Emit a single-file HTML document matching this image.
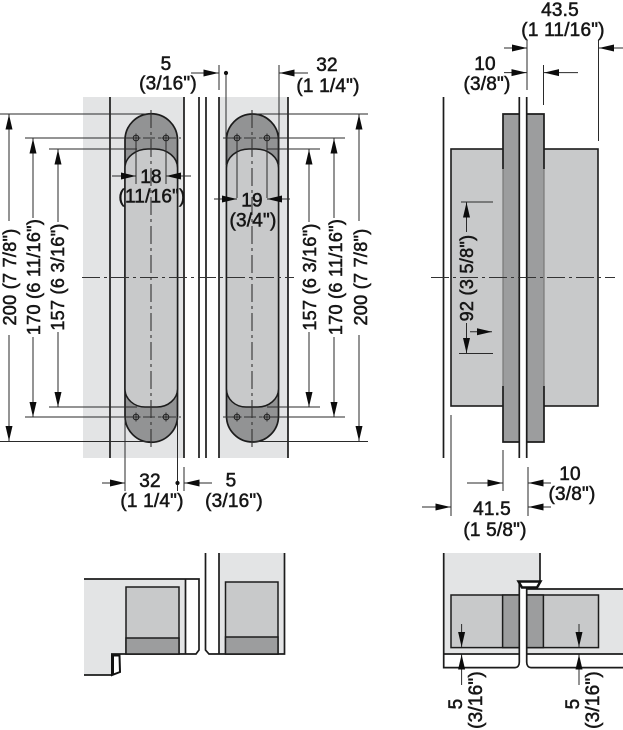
<!DOCTYPE html>
<html><head><meta charset="utf-8"><style>
html,body{margin:0;padding:0;background:#fff}
svg{display:block}
text{font-family:"Liberation Sans",sans-serif;font-size:19px;fill:#161616;stroke:#161616;stroke-width:.55;text-anchor:middle;letter-spacing:.2px}
text.r{font-size:18px;letter-spacing:.3px}
.k{stroke:#1c1c1c;stroke-width:1.7;fill:none}
.t{stroke:#2a2a2a;stroke-width:1;fill:none}
.c{stroke:#333;stroke-width:1.1;fill:none;stroke-dasharray:18 4 3 4}
</style></head><body>
<svg width="623" height="730" viewBox="0 0 623 730" xmlns="http://www.w3.org/2000/svg">
<defs>
<marker id="a" markerUnits="userSpaceOnUse" markerWidth="16" markerHeight="8" refX="15" refY="4" orient="auto"><path d="M0 .5L15 4L0 7.5Z" fill="#0c0c0c"/></marker>
<g id="hole"><circle r="2.8" fill="none" stroke="#222" stroke-width="1"/><path d="M-4.5 0H4.5M0 -4.5V4.5" stroke="#222" stroke-width=".9"/></g>
</defs>

<!-- left view panels -->
<rect x="83" y="97" width="101" height="361" fill="#e3e4e5"/>
<rect x="219" y="97" width="69" height="361" fill="#e3e4e5"/>

<!-- hinges -->
<path d="M125 140A26.2 26.2 0 0 1 177.5 140V416A26.2 26.2 0 0 1 125 416Z" class="k" style="fill:#929394"/>
<path d="M125 168C125 157 136 149 148 149H155C167 149 177.5 157 177.5 168V389C177.5 399 168 407 157 407H145C134 407 125 399 125 389Z" fill="#c8c9ca" stroke="#1c1c1c" stroke-width="1.5"/>
<path d="M226.5 140A26 26 0 0 1 278.5 140V416A26 26 0 0 1 226.5 416Z" style="fill:#929394" class="k"/>
<path d="M226.5 168C226.5 157 237 149 249 149H256C268 149 278.5 157 278.5 168V389C278.5 399 269 407 258 407H246C235 407 226.5 399 226.5 389Z" fill="#c8c9ca" stroke="#1c1c1c" stroke-width="1.5"/>

<!-- vertical structure lines -->
<path class="k" d="M110 97V458M184 97V458M199 97V458M206 97V458M219 97V458M288 97V458"/>

<!-- centre lines -->
<path class="c" d="M82 277.5H294M151 110V448M252 110V448M431 277.5H615"/>
<path class="c" style="stroke-dasharray:12 3 3 3" d="M122 138H181M122 417H181M223 138H282M223 417H282"/>

<use href="#hole" x="136" y="138"/><use href="#hole" x="166" y="138"/>
<use href="#hole" x="237" y="138"/><use href="#hole" x="267" y="138"/>
<use href="#hole" x="136" y="417"/><use href="#hole" x="166" y="417"/>
<use href="#hole" x="237" y="417"/><use href="#hole" x="267" y="417"/>

<!-- extension lines left -->
<path class="t" d="M0 114H150M25 138H136M49 149H137M49 407H137M25 417H136M0 441.5H150"/>
<!-- extension lines right -->
<path class="t" d="M252 114H368M267 138H345M267 149H320M267 407H320M267 417H345M252 441.5H368"/>

<!-- vertical dims left -->
<path class="t" marker-end="url(#a)" d="M9 221V114.5"/><path class="t" marker-end="url(#a)" d="M9 335V441"/>
<path class="t" marker-end="url(#a)" d="M33 218V138.5"/><path class="t" marker-end="url(#a)" d="M33 337V417"/>
<path class="t" marker-end="url(#a)" d="M58 222V149.5"/><path class="t" marker-end="url(#a)" d="M58 332V407"/>
<!-- vertical dims right -->
<path class="t" marker-end="url(#a)" d="M309 222V149.5"/><path class="t" marker-end="url(#a)" d="M309 332V407"/>
<path class="t" marker-end="url(#a)" d="M334 218V138.5"/><path class="t" marker-end="url(#a)" d="M334 337V417"/>
<path class="t" marker-end="url(#a)" d="M359 221V114.5"/><path class="t" marker-end="url(#a)" d="M359 335V441"/>

<text class="r" transform="translate(16 277) rotate(-90)">200 (7 7/8")</text>
<text class="r" transform="translate(40 277) rotate(-90)">170 (6 11/16")</text>
<text class="r" transform="translate(64 277) rotate(-90)">157 (6 3/16")</text>
<text class="r" transform="translate(316 277) rotate(-90)">157 (6 3/16")</text>
<text class="r" transform="translate(342 277) rotate(-90)">170 (6 11/16")</text>
<text class="r" transform="translate(367 277) rotate(-90)">200 (7 7/8")</text>

<!-- top dims -->
<path class="t" d="M219 65V90M226 73V165M279 65V165"/>
<circle cx="226" cy="73" r="2.1" fill="#111"/>
<path class="t" marker-end="url(#a)" d="M191 73H218.5"/>
<path class="t" marker-end="url(#a)" d="M308 73H279.5"/>
<text x="166" y="70">5</text><text x="168" y="89.5">(3/16")</text>
<text x="327" y="71">32</text><text x="328" y="92">(1 1/4")</text>

<!-- 18 / 19 -->
<path class="t" d="M136 138V184M166 138V184M237 138V198M267 138V198"/>
<path class="t" marker-end="url(#a)" d="M112 176H136"/>
<path class="t" marker-end="url(#a)" d="M191 176H166"/>
<path class="t" marker-end="url(#a)" d="M214 199H237"/>
<path class="t" marker-end="url(#a)" d="M290 199H267"/>
<text x="151" y="183">18</text><text x="152" y="202.5">(11/16")</text>
<text x="252" y="206.5">19</text><text x="253" y="226.5">(3/4")</text>

<!-- bottom dims -->
<path class="t" d="M125 417V491M177.5 417V491M184 467V491"/>
<circle cx="177.5" cy="483" r="2.1" fill="#111"/>
<path class="t" marker-end="url(#a)" d="M102 483H125"/>
<path class="t" marker-end="url(#a)" d="M212 483H184.5"/>
<text x="150" y="487">32</text><text x="152" y="507">(1 1/4")</text>
<text x="231" y="486.5">5</text><text x="234" y="507">(3/16")</text>

<!-- side view -->
<rect x="451" y="149" width="147" height="257" fill="#c8c9ca" stroke="#1c1c1c" stroke-width="1.6"/>
<rect x="503" y="114" width="41" height="328" fill="#9c9d9e"/>
<path stroke="#777" stroke-width="1.2" fill="none" d="M503 169V386M544 169V386"/>
<path class="k" d="M503 169V114H544V169M503 386V442H544V386"/>
<rect x="519.5" y="100" width="7" height="355" fill="#fff"/>
<path class="k" d="M443.5 97V458M519.3 97V458M526.7 97V458"/>
<path class="c" d="M431 277.5H615"/>

<!-- side dims top -->
<path class="t" d="M527 40V90M543.5 65V105M598.5 40V141"/>
<path class="t" marker-end="url(#a)" d="M504 48H527"/>
<path class="t" marker-end="url(#a)" d="M623 48H599"/>
<path class="t" marker-end="url(#a)" d="M504 72.6H526.5"/>
<path class="t" marker-end="url(#a)" d="M578 72.6H544"/>
<text x="560" y="16">43.5</text><text x="563" y="36">(1 11/16")</text>
<text x="485" y="70">10</text><text x="487" y="90">(3/8")</text>

<!-- 92 -->
<path class="t" d="M461 202H493M459 353.5H493"/>
<path class="t" marker-end="url(#a)" d="M466.5 232V202.5"/>
<path class="t" marker-end="url(#a)" d="M466.5 323V353"/>
<path class="t" marker-end="url(#a)" d="M470 331.7H492"/>
<text class="r" transform="translate(473 278) rotate(-90)">92 (3 5/8")</text>

<!-- side dims bottom -->
<path class="t" d="M451 415V516M503 450V491M528 467V516"/>
<path class="t" marker-end="url(#a)" d="M467 483H502.5"/>
<path class="t" marker-end="url(#a)" d="M422 507H450.5"/>
<path class="t" marker-end="url(#a)" d="M551 483H528.5"/>
<path class="t" marker-end="url(#a)" d="M551 507H528.5"/>
<text x="570" y="480">10</text><text x="572" y="500">(3/8")</text>
<text x="492" y="515">41.5</text><text x="495" y="536">(1 5/8")</text>

<!-- bottom-left section -->
<path d="M84 579H185V654H111V675H84Z" fill="#e3e4e5"/>
<path class="k" d="M84 579H199V650L196 654H111M185.5 579V654M84 675H112"/>
<rect x="126" y="587" width="53" height="67" fill="#c8c9ca" stroke="#1c1c1c" stroke-width="1.5"/>
<rect x="126" y="638" width="53" height="16" fill="#9c9d9e" stroke="#1c1c1c" stroke-width="1.5"/>
<path d="M112 655.5H119.5L120 672L112 675Z" fill="#fff" stroke="#111" stroke-width="2"/>
<path stroke="#111" stroke-width="3" d="M112.5 655V675" fill="none"/>

<!-- bottom-middle section -->
<rect x="219" y="553" width="66" height="101" fill="#e3e4e5"/>
<path class="k" d="M205.5 553V650L209 654H284.5V553M219 553V654"/>
<rect x="225.5" y="582" width="52.5" height="72" fill="#c8c9ca" stroke="#1c1c1c" stroke-width="1.5"/>
<rect x="225.5" y="637" width="52.5" height="17" fill="#9c9d9e" stroke="#1c1c1c" stroke-width="1.5"/>

<!-- bottom-right section -->
<rect x="443.5" y="553" width="96.5" height="100" fill="#e3e4e5"/>
<rect x="526.7" y="589" width="96.3" height="65" fill="#e3e4e5"/>
<rect x="451" y="595" width="147.5" height="52.6" fill="#c8c9ca" stroke="#1c1c1c" stroke-width="1.5"/>
<rect x="502.6" y="595" width="40.8" height="52.6" fill="#9c9d9e" stroke="#1c1c1c" stroke-width="1.5"/>
<rect x="519.5" y="582" width="7" height="82" fill="#fff"/>
<path class="k" d="M443.7 553V667.6H515C518 667.6 519.3 665 519.3 662V583M540 553V581M526.7 588V662C526.7 665 528 667.6 531 667.6H623M444 654H519M527 654H623M527 589H623"/>
<path d="M518.5 581.5H540.5L537 587.5H522Z" fill="#fff" stroke="#111" stroke-width="2.4"/>

<path class="t" marker-end="url(#a)" d="M461.6 624V647"/>
<path class="t" marker-end="url(#a)" d="M461.6 685V654.5"/>
<path class="t" marker-end="url(#a)" d="M579 624V647"/>
<path class="t" marker-end="url(#a)" d="M579 685V654.5"/>
<text transform="translate(462 704) rotate(-90)">5</text>
<text transform="translate(482 700) rotate(-90)">(3/16")</text>
<text transform="translate(579 704) rotate(-90)">5</text>
<text transform="translate(599 700) rotate(-90)">(3/16")</text>
</svg>
</body></html>
